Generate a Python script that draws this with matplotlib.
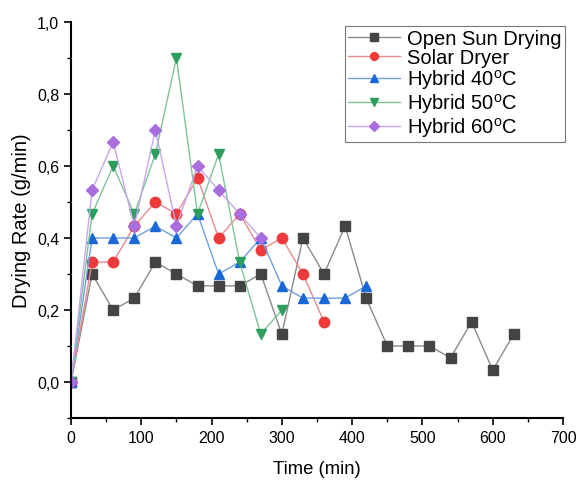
import matplotlib
matplotlib.use("Agg")
import matplotlib.pyplot as plt
from matplotlib.ticker import MultipleLocator, FuncFormatter

# ── data ─────────────────────────────────────────────────────────────
t_open = [0, 30, 60, 90, 120, 150, 180, 210, 240, 270, 300, 330, 360, 390,
          420, 450, 480, 510, 540, 570, 600, 630]
open_sun = [0, 0.30, 0.20, 0.233, 0.333, 0.30, 0.267, 0.267, 0.267, 0.30,
            0.133, 0.40, 0.30, 0.433, 0.233, 0.10, 0.10, 0.10, 0.067, 0.167,
            0.033, 0.133]

t_solar = [0, 30, 60, 90, 120, 150, 180, 210, 240, 270, 300, 330, 360]
solar = [0, 0.333, 0.333, 0.433, 0.50, 0.467, 0.567, 0.40, 0.467, 0.367,
         0.40, 0.30, 0.167]

t_h40 = [0, 30, 60, 90, 120, 150, 180, 210, 240, 270, 300, 330, 360, 390, 420]
hyb40 = [0, 0.40, 0.40, 0.40, 0.433, 0.40, 0.467, 0.30, 0.333, 0.40, 0.267,
         0.233, 0.233, 0.233, 0.267]

t_h50 = [0, 30, 60, 90, 120, 150, 180, 210, 240, 270, 300]
hyb50 = [0, 0.467, 0.60, 0.467, 0.633, 0.90, 0.467, 0.633, 0.333, 0.133, 0.20]

t_h60 = [0, 30, 60, 90, 120, 150, 180, 210, 240, 270]
hyb60 = [0, 0.533, 0.667, 0.433, 0.70, 0.433, 0.60, 0.533, 0.467, 0.40]

labels = ["Open Sun Drying", "Solar Dryer", "Hybrid 40$^{\\rm o}$C",
          "Hybrid 50$^{\\rm o}$C", "Hybrid 60$^{\\rm o}$C"]

series = [
    (t_open, open_sun, "s", 7.0, "#444444", "#8a8a8a"),
    (t_solar, solar, "o", 7.5, "#ee3a3a", "#e88a8a"),
    (t_h40, hyb40, "^", 7.5, "#1a68d8", "#6fa0e0"),
    (t_h50, hyb50, "v", 7.5, "#2e9e5c", "#7fc49a"),
    (t_h60, hyb60, "D", 6.5, "#a86ee0", "#c8a6ea"),
]

plt.rcParams["font.family"] = ["Liberation Sans", "DejaVu Sans"]
plt.rcParams["mathtext.fontset"] = "custom"
plt.rcParams["mathtext.rm"] = "Liberation Sans"

fig = plt.figure(figsize=(5.77, 4.81), dpi=100)
ax = fig.add_axes([71 / 577, 1 - 419 / 481, (563 - 71) / 577, (419 - 23) / 481])

for label, (t, y, mk, ms, mc, lc) in zip(labels, series):
    ax.plot(t, y, color=lc, lw=1.0, marker=mk, markersize=ms,
            markerfacecolor=mc, markeredgecolor=mc, label=label)

ax.set_xlim(0, 700)
ax.set_ylim(-0.1, 1.0)
ax.xaxis.set_major_locator(MultipleLocator(100))
ax.xaxis.set_minor_locator(MultipleLocator(50))
ax.yaxis.set_major_locator(MultipleLocator(0.2))
ax.yaxis.set_minor_locator(MultipleLocator(0.1))
ax.yaxis.set_major_formatter(FuncFormatter(lambda v, p: f"{v:.1f}".replace(".", ",")))

for s in ("top", "right"):
    ax.spines[s].set_visible(False)
for s in ("left", "bottom"):
    ax.spines[s].set_linewidth(1.5)
ax.tick_params(which="major", direction="out", length=5, width=1.2, labelsize=11.5)
ax.tick_params(which="minor", direction="out", length=3, width=1.0)

ax.set_xlabel("Time (min)", fontsize=13.3, labelpad=11)
ax.set_ylabel("Drying Rate (g/min)", fontsize=14.5, labelpad=4)

leg = ax.legend(loc="upper right", bbox_to_anchor=(565 / 577, 1 - 27 / 481),
                bbox_transform=fig.transFigure, fontsize=14.5,
                frameon=True, fancybox=False, edgecolor="#555555",
                handlelength=2.6, handletextpad=0.35, borderpad=0.15,
                borderaxespad=0, labelspacing=0.0, markerscale=0.75)
leg.get_frame().set_linewidth(0.8)

fig.savefig("out.png", dpi=100)
